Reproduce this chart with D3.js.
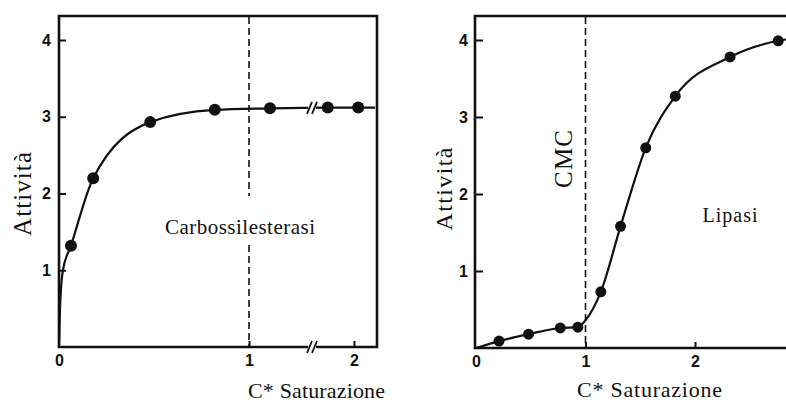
<!DOCTYPE html>
<html>
<head>
<meta charset="utf-8">
<script src="https://cdn.jsdelivr.net/npm/d3@7"></script>
<style>
  body { margin: 0; background: #fff; }
  .tick text { font-family: "Liberation Sans", Arial, sans-serif; font-weight: bold; font-size: 16px; fill: #111; }
  .tick line { stroke: #111; stroke-width: 2; }
  .lbl { font-family: "Liberation Serif", "Times New Roman", serif; fill: #111; }
</style>
</head>
<body>
<div id="chart"></div>
<script>
// Carbossilesterasi (left panel), x axis broken between 1 and 2
var carbX = [0.063, 0.18, 0.48, 0.82, 1.2, 1.75, 2.04];
var carbY = [1.32, 2.2, 2.93, 3.09, 3.11, 3.12, 3.12];
var carbCurveX = [0, 0.005, 0.02, 0.063, 0.18, 0.48, 0.82, 1.2, 1.75, 2.04, 2.2];
var carbCurveY = [0, 0.48, 0.99, 1.32, 2.2, 2.93, 3.09, 3.11, 3.12, 3.12, 3.12];
var carbBreak = 1.6;

// Lipasi (right panel)
var lipX = [0.21, 0.48, 0.77, 0.93, 1.14, 1.32, 1.55, 1.82, 2.32, 2.76];
var lipY = [0.09, 0.18, 0.26, 0.27, 0.73, 1.58, 2.6, 3.27, 3.78, 3.99];
var lipCurveX = [0, 0.21, 0.48, 0.77, 0.93, 1.0, 1.14, 1.32, 1.55, 1.82, 2.32, 2.76, 2.9];
var lipCurveY = [0, 0.09, 0.18, 0.26, 0.27, 0.36, 0.73, 1.58, 2.6, 3.27, 3.78, 3.99, 4.02];

var yTicks = [1, 2, 3, 4];
var xTicks = [0, 1, 2];

var svg = d3.select("#chart").append("svg")
    .attr("width", 786)
    .attr("height", 403);

function zip(a, b) { return a.map(function(v, i) { return [v, b[i]]; }); }

function panel(opt) {
    var x = d3.scaleLinear().domain(opt.xDomain).range(opt.xRange);
    var y = d3.scaleLinear().domain([0, 4]).range([opt.bottom, opt.top]);
    var g = svg.append("g");

    // dashed line at x = 1
    opt.dashSegs.forEach(function(s) {
        g.append("line")
            .attr("x1", x(1)).attr("x2", x(1))
            .attr("y1", s[0]).attr("y2", s[1])
            .attr("stroke", "#111").attr("stroke-width", 1.6)
            .attr("stroke-dasharray", "7,4");
    });

    // frame
    g.append("path")
        .attr("d", opt.frame(x, y))
        .attr("fill", "none").attr("stroke", "#111").attr("stroke-width", 2.6);

    g.append("g")
        .attr("transform", "translate(" + x(0) + ",0)")
        .call(d3.axisLeft(y).tickValues(yTicks).tickSize(-7).tickPadding(8).tickFormat(d3.format("d")))
        .call(function(a) { a.select(".domain").remove(); });

    g.append("g")
        .attr("transform", "translate(0," + y(0) + ")")
        .call(d3.axisBottom(x).tickValues(xTicks).tickSize(-6).tickPadding(8).tickFormat(d3.format("d")))
        .call(function(a) { a.select(".domain").remove(); a.select(".tick line").remove(); });

    var line = d3.line()
        .x(function(d) { return x(d[0]); })
        .y(function(d) { return y(d[1]); })
        .curve(d3.curveMonotoneX);

    g.append("path")
        .datum(zip(opt.curveX, opt.curveY))
        .attr("d", line)
        .attr("fill", "none").attr("stroke", "#111").attr("stroke-width", 2.2);

    g.selectAll("circle")
        .data(zip(opt.px, opt.py))
        .enter().append("circle")
        .attr("cx", function(d) { return x(d[0]); })
        .attr("cy", function(d) { return y(d[1]); })
        .attr("r", opt.r)
        .attr("fill", "#111");

    return { g: g, x: x, y: y };
}

// left panel
var L = panel({
    xDomain: [0, 1, 2], xRange: [59, 249, 354],
    top: 40, bottom: 347,
    dashSegs: [[17, 196], [245, 346]],
    frame: function(x, y) { return "M59,16H377V347H59Z"; },
    curveX: carbCurveX, curveY: carbCurveY,
    px: carbX, py: carbY, r: 6
});

// break marks "//" on curve and axis
function breakMark(g, cx, cy) {
    g.append("rect").attr("x", cx - 4).attr("y", cy - 6).attr("width", 8).attr("height", 12).attr("fill", "#fff");
    [-2.5, 2.5].forEach(function(o) {
        g.append("line")
            .attr("x1", cx + o - 2.5).attr("y1", cy + 6)
            .attr("x2", cx + o + 2.5).attr("y2", cy - 6)
            .attr("stroke", "#111").attr("stroke-width", 1.8);
    });
}
breakMark(L.g, L.x(carbBreak), L.y(3.115));
breakMark(L.g, L.x(carbBreak), L.y(0));

L.g.append("text").attr("class", "lbl")
    .attr("x", 240).attr("y", 234)
    .attr("text-anchor", "middle")
    .style("font-size", "21px")
    .attr("textLength", 150).attr("lengthAdjust", "spacing")
    .text("Carbossilesterasi");

L.g.append("text").attr("class", "lbl")
    .attr("transform", "translate(31,194) rotate(-90)")
    .attr("text-anchor", "middle")
    .style("font-size", "25px")
    .attr("textLength", 84).attr("lengthAdjust", "spacing")
    .text("Attività");

L.g.append("text").attr("class", "lbl")
    .attr("x", 248).attr("y", 398)
    .style("font-size", "22px")
    .attr("textLength", 137).attr("lengthAdjust", "spacing")
    .text("C* Saturazione");

// right panel
var R = panel({
    xDomain: [0, 2], xRange: [476, 695],
    top: 40, bottom: 348,
    dashSegs: [[17, 347]],
    frame: function(x, y) { return "M786,16H475V348H786"; },
    curveX: lipCurveX, curveY: lipCurveY,
    px: lipX, py: lipY, r: 5.5
});

R.g.append("text").attr("class", "lbl")
    .attr("x", 730).attr("y", 222)
    .attr("text-anchor", "middle")
    .style("font-size", "20px")
    .attr("textLength", 55).attr("lengthAdjust", "spacing")
    .text("Lipasi");

R.g.append("text").attr("class", "lbl")
    .attr("transform", "translate(572,159) rotate(-90)")
    .attr("text-anchor", "middle")
    .style("font-size", "25px")
    .attr("textLength", 58).attr("lengthAdjust", "spacing")
    .text("CMC");

R.g.append("text").attr("class", "lbl")
    .attr("transform", "translate(452,189) rotate(-90)")
    .attr("text-anchor", "middle")
    .style("font-size", "24px")
    .attr("textLength", 83).attr("lengthAdjust", "spacing")
    .text("Attività");

R.g.append("text").attr("class", "lbl")
    .attr("x", 577).attr("y", 397)
    .style("font-size", "22px")
    .attr("textLength", 145).attr("lengthAdjust", "spacing")
    .text("C* Saturazione");
</script>
</body>
</html>
